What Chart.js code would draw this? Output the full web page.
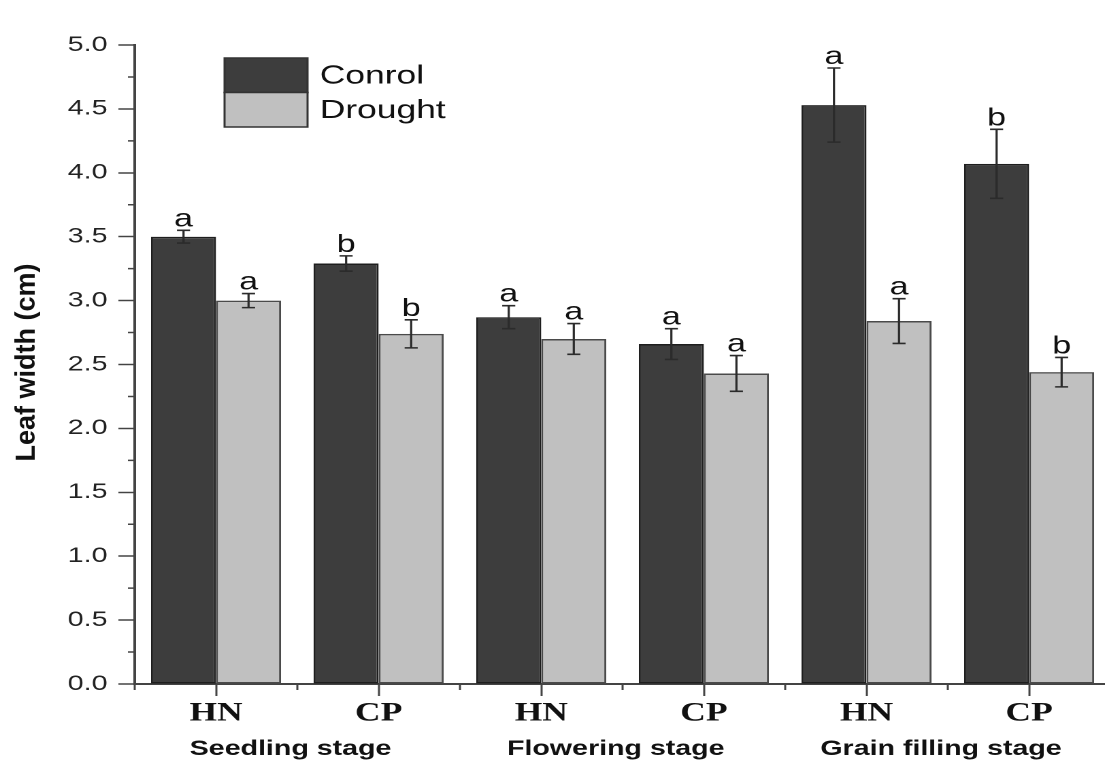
<!DOCTYPE html>
<html>
<head>
<meta charset="utf-8">
<script src="https://cdn.jsdelivr.net/npm/chart.js@4.4.0/dist/chart.umd.min.js"></script>
<style>
  html, body { margin: 0; padding: 0; background: #fff; }
  #frame { width: 1105px; height: 763px; overflow: hidden; position: relative; }
  /* the original figure is stretched horizontally, so draw narrow and stretch */
  #stretch { width: 820px; height: 763px; transform: scaleX(1.3608); transform-origin: 0 0; }
</style>
</head>
<body>
<div id="frame"><div id="stretch"><canvas id="chart" width="820" height="763"></canvas></div></div>
<script>
const categories = ["HN", "CP", "HN", "CP", "HN", "CP"];
const stages = ["Seedling stage", "Flowering stage", "Grain filling stage"];

const controlValues = [3.50, 3.29, 2.87, 2.66, 4.53, 4.07];
const controlErrors = [0.05, 0.06, 0.09, 0.12, 0.29, 0.27];
const controlLetters = ["a", "b", "a", "a", "a", "b"];

const droughtValues = [3.00, 2.74, 2.70, 2.43, 2.84, 2.44];
const droughtErrors = [0.055, 0.11, 0.12, 0.14, 0.175, 0.115];
const droughtLetters = ["a", "b", "a", "a", "a", "b"];

const yTitle = "Leaf width (cm)";

const sans = "'Liberation Sans', Arial, sans-serif";
const serif = "'Liberation Serif', 'Times New Roman', serif";

// error bars, letters, minor ticks, legend, stage labels and y title
const extras = {
  id: "extras",
  afterDatasetsDraw(chart) {
    const { ctx } = chart;
    const y = chart.scales.y;
    ctx.save();
    chart.data.datasets.forEach((ds, di) => {
      const meta = chart.getDatasetMeta(di);
      meta.data.forEach((bar, i) => {
        const v = ds.data[i], e = ds.errors[i];
        const top = y.getPixelForValue(v + e);
        const bot = y.getPixelForValue(v - e);
        ctx.strokeStyle = "#2b2b2b";
        ctx.lineWidth = 1.6;
        ctx.beginPath();
        ctx.moveTo(bar.x, top); ctx.lineTo(bar.x, bot);
        ctx.moveTo(bar.x - 4.8, top); ctx.lineTo(bar.x + 4.8, top);
        ctx.moveTo(bar.x - 4.8, bot); ctx.lineTo(bar.x + 4.8, bot);
        ctx.stroke();
        ctx.fillStyle = "#111";
        ctx.font = "25px " + sans;
        ctx.textAlign = "center";
        ctx.textBaseline = "alphabetic";
        ctx.fillText(ds.letters[i], bar.x, top - 4);
      });
    });
    ctx.restore();
  },
  afterDraw(chart) {
    const { ctx, chartArea } = chart;
    const x = chart.scales.x, y = chart.scales.y;
    ctx.save();
    ctx.strokeStyle = "#444";
    ctx.lineWidth = 1.5;

    // minor y ticks
    ctx.beginPath();
    for (let v = 0.25; v < y.max; v += 0.5) {
      const py = y.getPixelForValue(v);
      ctx.moveTo(chartArea.left - 5, py);
      ctx.lineTo(chartArea.left, py);
    }
    // minor x ticks at category boundaries
    const half = (x.getPixelForValue(1) - x.getPixelForValue(0)) / 2;
    for (let i = 0; i < categories.length; i++) {
      const px = x.getPixelForValue(i) - half;
      ctx.moveTo(px, chartArea.bottom);
      ctx.lineTo(px, chartArea.bottom + 6);
    }
    ctx.stroke();

    // stage labels
    ctx.fillStyle = "#111";
    ctx.font = "bold 21px " + sans;
    ctx.textAlign = "center";
    ctx.textBaseline = "alphabetic";
    stages.forEach((s, i) => {
      const cx = (x.getPixelForValue(2 * i) + x.getPixelForValue(2 * i + 1)) / 2 - 5;
      ctx.fillText(s, cx, 755);
    });

    // legend
    const lx = chartArea.left + 66, ly = chartArea.top + 13;
    const bw = 61, bh = 34.5;
    chart.data.datasets.forEach((ds, i) => {
      const by = ly + i * bh;
      ctx.fillStyle = ds.backgroundColor;
      ctx.fillRect(lx, by, bw, bh);
      ctx.strokeStyle = "#333";
      ctx.lineWidth = 1.5;
      ctx.strokeRect(lx, by, bw, bh);
      ctx.fillStyle = "#111";
      ctx.font = "26px " + sans;
      ctx.textAlign = "left";
      ctx.textBaseline = "middle";
      ctx.fillText(ds.label, lx + bw + 9, by + bh / 2 + 1);
    });

    // y axis title
    ctx.translate(20, (chartArea.top + chartArea.bottom) / 2 - 2);
    ctx.rotate(-Math.PI / 2);
    ctx.scale(1.35, 1);
    ctx.fillStyle = "#111";
    ctx.font = "bold 20px " + sans;
    ctx.textAlign = "center";
    ctx.textBaseline = "middle";
    ctx.fillText(yTitle, 0, 0);
    ctx.restore();
  }
};

new Chart(document.getElementById("chart"), {
  type: "bar",
  data: {
    labels: categories,
    datasets: [
      {
        label: "Conrol",
        data: controlValues,
        errors: controlErrors,
        letters: controlLetters,
        backgroundColor: "#3d3d3d",
        borderColor: "#1e1e1e",
        borderWidth: 1.5,
        borderSkipped: false,
        categoryPercentage: 0.8,
        barPercentage: 1.0
      },
      {
        label: "Drought",
        data: droughtValues,
        errors: droughtErrors,
        letters: droughtLetters,
        backgroundColor: "#c0c0c0",
        borderColor: "#4a4a4a",
        borderWidth: 1.5,
        borderSkipped: false,
        categoryPercentage: 0.8,
        barPercentage: 1.0
      }
    ]
  },
  options: {
    responsive: false,
    devicePixelRatio: 2,
    animation: false,
    layout: { padding: { top: 45, right: 4, left: 0, bottom: 0 } },
    plugins: {
      legend: { display: false },
      tooltip: { enabled: false }
    },
    scales: {
      x: {
        grid: { drawOnChartArea: false, offset: false, tickLength: 12, tickColor: "#444", tickWidth: 1.5 },
        border: { color: "#444", width: 2 },
        ticks: {
          font: { family: serif, size: 26, weight: "bold" },
          color: "#111",
          padding: 2,
          maxRotation: 0
        },
        afterFit: s => { s.height = 79; }
      },
      y: {
        min: 0,
        max: 5,
        ticks: {
          stepSize: 0.5,
          callback: v => v.toFixed(1),
          font: { family: sans, size: 21 },
          color: "#222",
          padding: 8
        },
        grid: { drawOnChartArea: false, tickLength: 12, tickColor: "#444", tickWidth: 1.5 },
        border: { color: "#444", width: 2 },
        afterFit: s => { s.width = 99; }
      }
    }
  },
  plugins: [extras]
});
</script>
</body>
</html>
